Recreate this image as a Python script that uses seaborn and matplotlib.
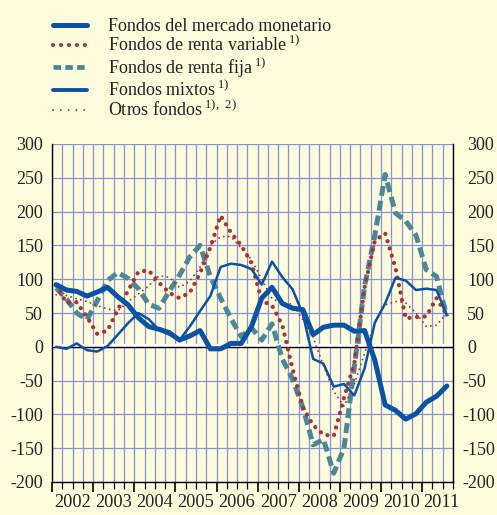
import numpy as np
import pandas as pd
import matplotlib
matplotlib.use("Agg")
import matplotlib.pyplot as plt
import matplotlib.transforms as mtransforms
from matplotlib.lines import Line2D
import seaborn as sns

# ---- data (quarterly, 2002Q1 .. 2011Q3) ----
years = list(range(2002, 2012))
monetario = [92, 84, 82, 75, 81, 88, 74, 62, 43, 30, 26, 21, 10, 16, 24, -3, -3, 5, 5, 30,
             72, 88, 64, 57, 55, 18, 29, 32, 32, 23, 24, -20, -86, -94, -107, -99, -82, -73, -58]
renta_variable = [91, 65, 66, 44, 19, 24, 55, 83, 111, 113, 95, 80, 72, 80, 109, 147, 194, 169, 150, 124,
                  68, 61, 32, -33, -90, -116, -130, -132, -75, -25, 88, 157, 168, 117, 42, 44, 45, 72, 47]
renta_fija = [87, 71, 50, 40, 68, 98, 110, 101, 86, 63, 57, 82, 106, 133, 150, 104, 72, 42, 15, 28,
              10, 34, -18, -48, -90, -145, -137, -187, -150, -30, 90, 165, 255, 198, 186, 165, 114, 104, 45]
mixtos = [0, -3, 5, -5, -7, 1, 18, 35, 50, 41, 25, 18, 10, 30, 53, 75, 118, 123, 121, 115,
          92, 126, 103, 85, 48, -18, -25, -59, -55, -72, -32, 36, 64, 102, 98, 84, 86, 84, 47]
otros = [77, 76, 71, 67, 61, 56, 53, 67, 78, 90, 105, 103, 88, 97, 118, 150, 163, 163, 146, 129,
         100, 71, 65, 63, 40, 14, -28, -66, -88, -55, -10, 35, 62, 67, 65, 50, 30, 32, 50]
labels = ["Fondos del mercado monetario",
          "Fondos de renta variable$\\,^{\\mathregular{1)}}$",
          "Fondos de renta fija$\\,^{\\mathregular{1)}}$",
          "Fondos mixtos$\\,^{\\mathregular{1)}}$",
          "Otros fondos$\\,^{\\mathregular{1),\\ 2)}}$"]
yticks = [-200, -150, -100, -50, 0, 50, 100, 150, 200, 250, 300]

n = len(monetario)
q = np.arange(n) + 0.4
df = pd.DataFrame({"q": q, "monetario": monetario, "variable": renta_variable,
                   "fija": renta_fija, "mixtos": mixtos, "otros": otros})

BG = "#FFFCDE"
GRID = "#8494D4"
BLUE = "#0A52A3"
RED = "#A83434"
TEAL = "#4A8898"
TXT = "#222222"

sns.set_style("white")
plt.rcParams["font.family"] = ["Liberation Serif", "DejaVu Serif"]
plt.rcParams["mathtext.fontset"] = "custom"
plt.rcParams["mathtext.rm"] = "Liberation Serif"

fig = plt.figure(figsize=(4.97, 5.15), dpi=100, facecolor=BG)
ax = fig.add_axes([52 / 497, 1 - 482 / 515, (453 - 52) / 497, (482 - 144) / 515])
ax.set_facecolor(BG)

# zero line (white band + black line)
ax.axhline(2.2, color="white", lw=2.4, zorder=1.5)
ax.axhline(0, color="black", lw=1.0, zorder=1.6)

styles = [
    ("fija", TEAL, 3.6, (0, (2.0, 1.0)), "butt"),
    ("variable", RED, 3.1, (0, (0.01, 1.75)), "round"),
    ("otros", RED, 1.4, (0, (0.01, 2.6)), "round"),
    ("mixtos", BLUE, 1.8, "-", "butt"),
    ("monetario", BLUE, 3.6, "-", "butt"),
]
for key, col, lw, ls, cap in styles:
    sns.lineplot(data=df, x="q", y=key, ax=ax, color=col, lw=lw, linestyle=ls,
                 dash_capstyle=cap, solid_joinstyle="round", zorder=3)

ax.set_xlim(0, 39)
ax.set_ylim(-200, 300)
ax.set_yticks(yticks)
ax.set_yticklabels([str(v) for v in yticks])
ax.set_xticks(np.arange(0, 40, 4))
ax.set_xticks(np.arange(0, 40, 1), minor=True)
ax.set_xticklabels([])
ax.set_xlabel("")
ax.set_ylabel("")

ax.grid(True, which="both", axis="x", color=GRID, lw=0.9, zorder=1)
ax.grid(True, which="major", axis="y", color=GRID, lw=0.9, zorder=1)
ax.set_axisbelow(True)

ax.spines["top"].set_visible(False)
for s in ["left", "right", "bottom"]:
    ax.spines[s].set_visible(True)
    ax.spines[s].set_color("black")
    ax.spines[s].set_linewidth(1.0)

ax.tick_params(axis="y", which="both", left=False, right=False, length=0, pad=6.5,
               labelleft=True, labelright=True, labelsize=13, labelcolor=TXT)
ax.tick_params(axis="x", which="major", direction="out", length=7, width=1.2, color="black", bottom=True)
ax.tick_params(axis="x", which="minor", direction="out", length=5, width=0.9, color="black", bottom=True)

# right labels: digits start at same x, minus sign hangs left
offset = mtransforms.ScaledTranslation(3.6 / 72, 0, fig.dpi_scale_trans)
for tick, v in zip(ax.yaxis.get_major_ticks(), yticks):
    if v >= 0:
        tick.label2.set_transform(tick.label2.get_transform() + offset)

# year labels
for k, yr in enumerate(years):
    xc = 4 * k + 2 if yr < 2011 else 37.9
    ax.text(xc, -0.035, str(yr), transform=ax.get_xaxis_transform(), ha="center", va="top",
            fontsize=13.2, color=TXT)

# legend
leg_handles = [
    Line2D([], [], color=BLUE, lw=3.6),
    Line2D([], [], color=RED, lw=3.0, linestyle=(0, (0.01, 1.9)), dash_capstyle="round"),
    Line2D([], [], color=TEAL, lw=3.4, linestyle=(0, (1.6, 0.9))),
    Line2D([], [], color=BLUE, lw=2.8),
    Line2D([], [], color=RED, lw=1.4, linestyle=(0, (0.01, 4.0)), dash_capstyle="round"),
]
fig.legend(leg_handles, labels, loc="upper left",
           bbox_to_anchor=(46 / 497, 1 - 11 / 515), frameon=False, fontsize=13,
           handlelength=1.85, handletextpad=1.2, labelspacing=-0.03, borderaxespad=0,
           labelcolor=TXT)

fig.savefig("out.png", dpi=100, facecolor=BG)
